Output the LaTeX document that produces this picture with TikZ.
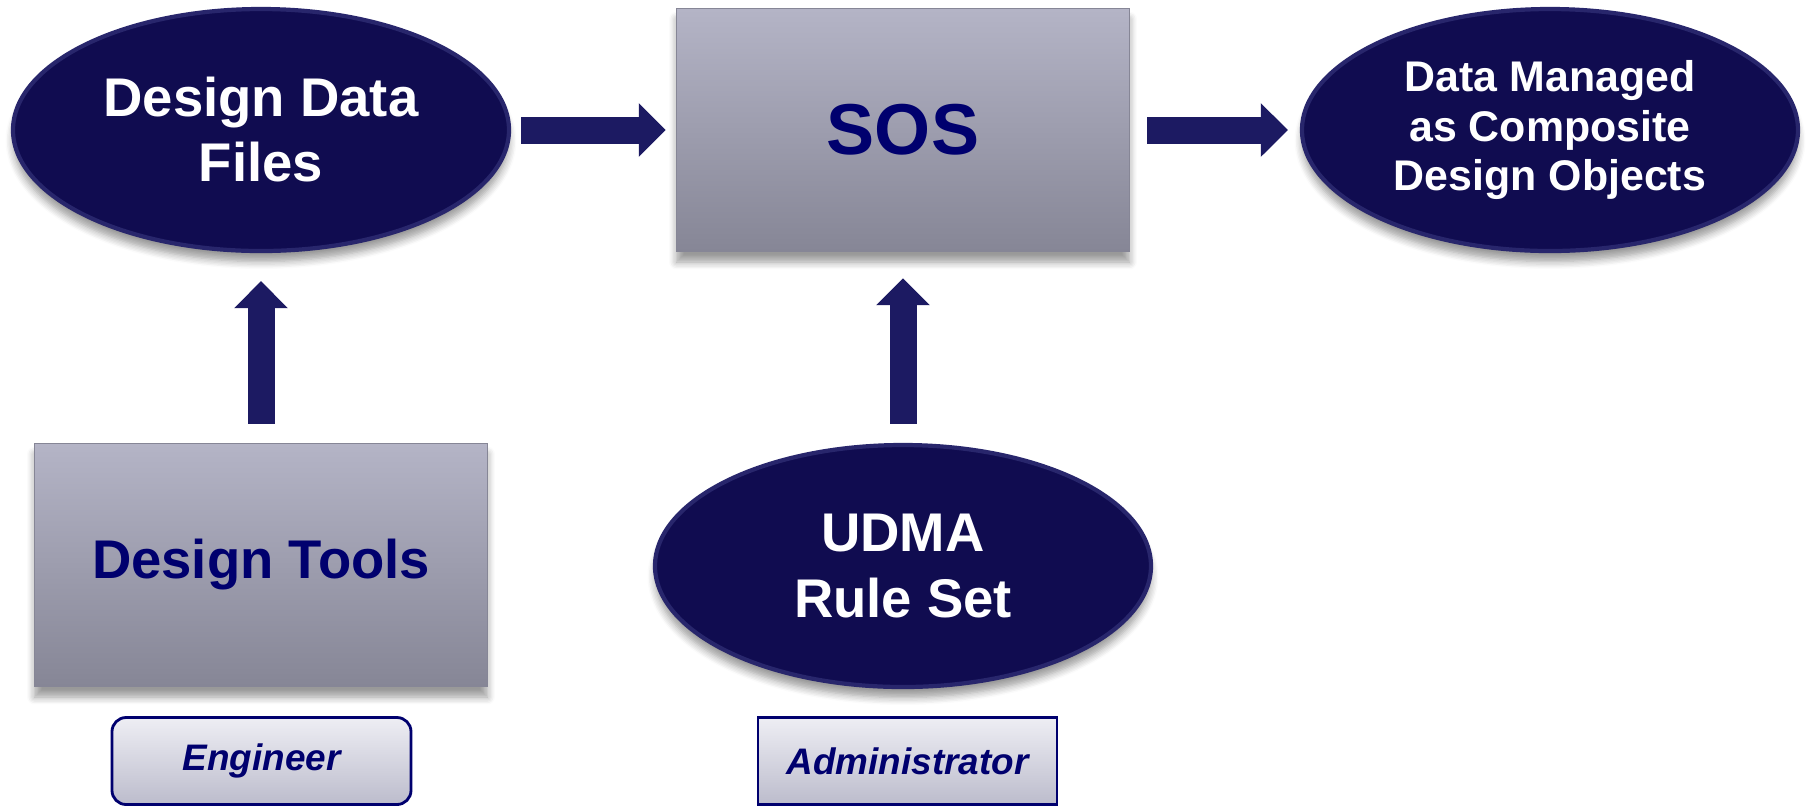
\documentclass[tikz,border=0pt]{standalone}
\usepackage{fontspec}
\setmainfont{Liberation Sans}
\usetikzlibrary{arrows.meta}
\usetikzlibrary{shapes.geometric,shadows.blur,positioning}

\definecolor{ovalnavy}{RGB}{16,12,80}
\definecolor{ovalrim}{RGB}{40,38,108}
\definecolor{textnavy}{RGB}{0,0,110}
\definecolor{boxtop}{RGB}{180,180,198}
\definecolor{boxbot}{RGB}{134,134,150}
\definecolor{tagtop}{RGB}{238,238,244}
\definecolor{tagbot}{RGB}{188,188,204}
\definecolor{arrownavy}{RGB}{28,26,98}

\begin{document}
\begin{tikzpicture}
			\useasboundingbox (0,0) rectangle (18.06,-8.07);

			\begin{scope}[oval/.style={ellipse,inner sep=0pt,minimum width=4.96cm,minimum height=2.42cm,
					fill=ovalnavy,draw=ovalrim,line width=1.2pt,text=white,align=center,
					blur shadow={shadow xshift=0pt,shadow yshift=-3pt,shadow blur steps=6}},
				greybox/.style={rectangle,minimum width=4.53cm,minimum height=2.43cm,
					top color=boxtop,bottom color=boxbot,draw=boxbot,thin,text=textnavy,
					blur shadow={shadow xshift=0pt,shadow yshift=-3pt,shadow blur steps=6}},
				tag/.style={rectangle,minimum width=2.99cm,minimum height=0.87cm,
					top color=tagtop,bottom color=tagbot,draw=textnavy,line width=0.8pt,text=textnavy,
					font=\bfseries\itshape\fontsize{10.5}{12}\selectfont}]
				\node[oval,font=\bfseries\fontsize{15.5}{18.5}\selectfont] (ddf) at (2.61,-1.30) {Design Data\\Files};
				\node[greybox,font=\bfseries\fontsize{20.5}{24}\selectfont] (sos) at (9.03,-1.30) {SOS};
				\node[oval,font=\bfseries\fontsize{12.2}{14.2}\selectfont] (dmc) at (15.50,-1.30) {Data Managed\\as Composite\\Design Objects};
				\node[greybox,font=\bfseries\fontsize{15.5}{18.5}\selectfont] (dtools) at (2.61,-5.65) {Design Tools};
				\node[oval,font=\bfseries\fontsize{15.5}{18.5}\selectfont] (udma) at (9.03,-5.66) {UDMA\\Rule Set};
				\node[tag,rounded corners=4pt] (eng) at (2.615,-7.61) {Engineer};
				\node[tag] (adm) at (9.075,-7.61) {Administrator};
			\end{scope}

			\begin{scope}[every edge/.style={draw=arrownavy,line width=0.27cm,
					-{Triangle[length=0.27cm,width=0.52cm]}}]
				\path (ddf) edge[shorten <=0.10cm,shorten >=0.10cm] (sos);
				\path (sos) edge[shorten <=0.17cm,shorten >=0.12cm] (dmc);
				\path (dtools) edge[shorten <=0.19cm,shorten >=0.28cm] (ddf);
				\path (udma) edge[shorten <=0.19cm,shorten >=0.26cm] (sos);
			\end{scope}
		\end{tikzpicture}
\end{document}
